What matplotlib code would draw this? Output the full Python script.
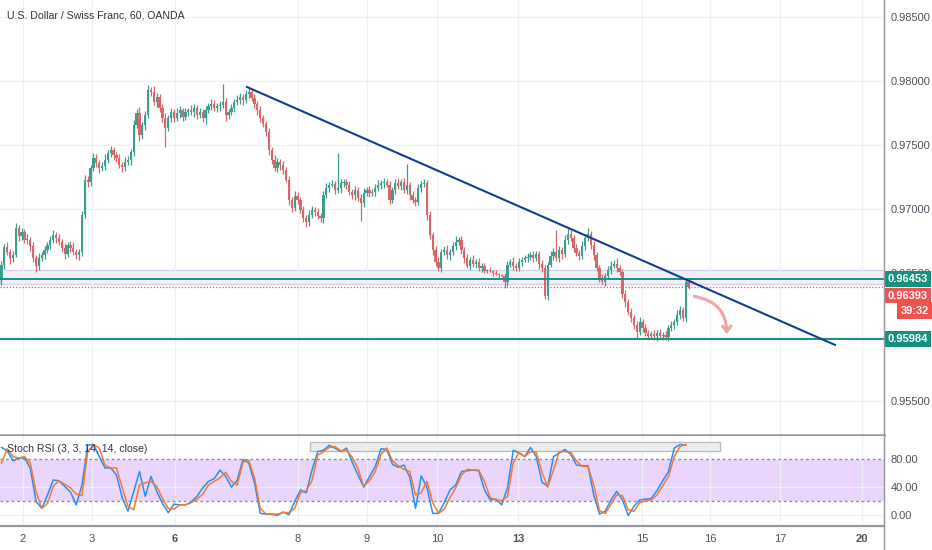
import numpy as np
import matplotlib.pyplot as plt
from matplotlib.patches import Rectangle, FancyArrowPatch
from matplotlib.transforms import offset_copy

plt.rcParams['font.family'] = ['Liberation Sans', 'DejaVu Sans']

# hourly USDCHF closes (open = previous close)
closes = [
    0.96563, 0.96703, 0.96664, 0.96617, 0.96641, 0.96852, 0.96789, 0.96820, 0.96758, 0.96758,
    0.96711, 0.96617, 0.96555, 0.96617, 0.96641, 0.96680, 0.96719, 0.96758, 0.96797, 0.96773,
    0.96742, 0.96695, 0.96648, 0.96719, 0.96695, 0.96664, 0.96641, 0.96664, 0.96953, 0.97227,
    0.97211, 0.97320, 0.97398, 0.97359, 0.97320, 0.97336, 0.97383, 0.97438, 0.97461, 0.97422,
    0.97398, 0.97344, 0.97328, 0.97367, 0.97383, 0.97445, 0.97656, 0.97750, 0.97578, 0.97656,
    0.97734, 0.97930, 0.97914, 0.97836, 0.97875, 0.97789, 0.97711, 0.97633, 0.97711, 0.97758,
    0.97711, 0.97750, 0.97773, 0.97719, 0.97758, 0.97773, 0.97758, 0.97789, 0.97734, 0.97758,
    0.97711, 0.97773, 0.97805, 0.97820, 0.97789, 0.97805, 0.97813, 0.97836, 0.97734, 0.97758,
    0.97789, 0.97836, 0.97852, 0.97875, 0.97852, 0.97898, 0.97914, 0.97867, 0.97820, 0.97773,
    0.97711, 0.97664, 0.97602, 0.97461, 0.97383, 0.97320, 0.97367, 0.97344, 0.97305, 0.97227,
    0.97070, 0.97008, 0.97102, 0.97070, 0.96992, 0.96930, 0.96898, 0.96953, 0.96992, 0.96977,
    0.96945, 0.96930, 0.97109, 0.97164, 0.97188, 0.97195, 0.97148, 0.97164, 0.97203, 0.97211,
    0.97188, 0.97133, 0.97109, 0.97148, 0.97086, 0.97047, 0.97125, 0.97148, 0.97125, 0.97133,
    0.97164, 0.97188, 0.97203, 0.97211, 0.97188, 0.97070, 0.97148, 0.97203, 0.97180, 0.97211,
    0.97148, 0.97188, 0.97109, 0.97070, 0.97055, 0.97164, 0.97195, 0.97203, 0.96953, 0.96797,
    0.96680, 0.96586, 0.96539, 0.96664, 0.96680, 0.96641, 0.96664, 0.96711, 0.96742, 0.96758,
    0.96680, 0.96617, 0.96555, 0.96602, 0.96570, 0.96586, 0.96539, 0.96555, 0.96516, 0.96523,
    0.96516, 0.96500, 0.96492, 0.96484, 0.96477, 0.96430, 0.96563, 0.96586, 0.96555, 0.96539,
    0.96586, 0.96602, 0.96617, 0.96625, 0.96641, 0.96617, 0.96648, 0.96570, 0.96539, 0.96320,
    0.96563, 0.96633, 0.96664, 0.96617, 0.96680, 0.96648, 0.96758, 0.96805, 0.96773, 0.96695,
    0.96656, 0.96633, 0.96711, 0.96773, 0.96805, 0.96719, 0.96641, 0.96539, 0.96461, 0.96430,
    0.96477, 0.96523, 0.96555, 0.96570, 0.96539, 0.96508, 0.96336, 0.96273, 0.96195, 0.96148,
    0.96094, 0.96039, 0.96117, 0.96070, 0.96031, 0.96008, 0.96023, 0.96008, 0.96031, 0.96008,
    0.96016, 0.96000, 0.96070, 0.96094, 0.96117, 0.96172, 0.96211, 0.96148, 0.96430, 0.96393,
]
first_open = 0.96445

# wick lengths in pips above / below the body
wick_up = [
    3, 2, 4, 2, 3, 4, 2, 3, 2, 5, 2, 3, 2, 4, 2, 3, 2, 3, 4, 2,
    3, 2, 4, 2, 3, 5, 2, 2, 3, 4, 3, 2, 4, 3, 2, 3, 5, 2, 3, 2,
    2, 3, 2, 4, 3, 2, 4, 3, 5, 2, 3, 4, 2, 5, 3, 2, 3, 4, 2, 3,
    2, 4, 3, 2, 3, 2, 4, 3, 2, 3, 2, 3, 2, 4, 3, 2, 3, 14, 3, 2,
    3, 2, 4, 3, 2, 3, 3, 2, 3, 2, 3, 2, 2, 3, 2, 4, 3, 2, 3, 2,
    3, 2, 4, 3, 2, 3, 2, 4, 3, 2, 3, 2, 3, 4, 2, 3, 2, 27, 3, 2,
    2, 3, 2, 3, 2, 3, 4, 2, 3, 2, 3, 4, 2, 3, 2, 3, 2, 3, 4, 2,
    3, 16, 2, 3, 2, 3, 2, 3, 2, 3, 2, 3, 4, 2, 3, 4, 2, 3, 5, 2,
    3, 2, 3, 2, 4, 2, 3, 2, 2, 1, 2, 1, 2, 1, 1, 2, 3, 2, 4, 2,
    3, 2, 2, 3, 2, 3, 2, 2, 3, 2, 2, 4, 3, 17, 3, 2, 4, 5, 3, 2,
    3, 2, 4, 3, 5, 2, 3, 2, 2, 3, 2, 3, 4, 3, 5, 2, 2, 3, 2, 3,
    2, 3, 4, 2, 3, 2, 2, 3, 2, 3, 2, 3, 2, 3, 2, 4, 3, 2, 2, 2,
]
wick_dn = [
    4, 3, 2, 5, 3, 2, 4, 3, 2, 3, 4, 3, 5, 3, 2, 3, 2, 3, 2, 4,
    2, 3, 4, 2, 3, 2, 3, 4, 3, 2, 4, 3, 2, 3, 4, 2, 3, 2, 3, 4,
    3, 2, 4, 3, 2, 4, 3, 2, 5, 3, 4, 2, 3, 2, 4, 3, 3, 15, 2, 3,
    3, 2, 4, 3, 2, 3, 2, 4, 3, 2, 3, 5, 2, 3, 2, 3, 4, 2, 5, 3,
    2, 3, 2, 3, 4, 2, 3, 2, 3, 4, 3, 2, 3, 4, 3, 2, 3, 4, 3, 2,
    4, 3, 2, 3, 2, 3, 4, 3, 2, 3, 2, 3, 4, 2, 3, 2, 3, 2, 4, 3,
    3, 2, 3, 4, 2, 14, 3, 2, 3, 2, 3, 2, 3, 4, 2, 3, 2, 3, 2, 3,
    2, 3, 4, 2, 3, 2, 3, 2, 4, 3, 4, 3, 2, 3, 2, 3, 4, 2, 3, 2,
    3, 4, 2, 3, 2, 3, 2, 3, 2, 2, 1, 2, 1, 2, 1, 5, 3, 2, 3, 2,
    2, 3, 2, 3, 2, 3, 2, 4, 3, 2, 3, 2, 3, 2, 3, 4, 2, 3, 2, 3,
    2, 3, 2, 3, 2, 3, 4, 2, 3, 2, 3, 2, 3, 2, 3, 2, 3, 4, 2, 3,
    3, 5, 2, 3, 2, 3, 2, 3, 4, 2, 3, 2, 3, 2, 3, 2, 3, 2, 3, 2,
]

# stoch rsi, sampled every second bar
stoch_k = [
    96, 91, 77, 81, 81, 67, 20, 10, 29, 50, 49, 41, 33, 15, 43, 99, 100, 83, 67, 67,
    57, 25, 6, 34, 62, 27, 55, 34, 17, 4, 16, 15, 15, 19, 27, 39, 48, 52, 64, 55,
    40, 50, 79, 74, 46, 3, 2, 2, 0, 5, 1, 20, 36, 32, 64, 90, 92, 99, 95, 90,
    95, 75, 57, 40, 55, 69, 94, 93, 72, 68, 71, 54, 10, 56, 39, 3, 3, 18, 36, 43,
    62, 63, 64, 63, 36, 22, 23, 15, 39, 92, 88, 83, 96, 83, 47, 41, 83, 88, 93, 86,
    71, 70, 70, 29, 2, 6, 22, 34, 22, 0, 13, 22, 23, 24, 35, 49, 62, 95, 100, 99,
]
stoch_d = [
    74, 94, 83, 81, 83, 74, 34, 10, 17, 41, 49, 44, 39, 30, 28, 90, 100, 95, 71, 67,
    67, 39, 13, 8, 43, 46, 48, 41, 24, 10, 9, 15, 15, 18, 23, 30, 43, 48, 53, 61,
    48, 43, 75, 78, 53, 10, 2, 2, 2, 4, 4, 10, 32, 35, 49, 85, 90, 96, 97, 91,
    92, 82, 66, 41, 49, 62, 86, 95, 77, 70, 65, 62, 29, 32, 48, 18, 3, 9, 25, 39,
    57, 65, 64, 64, 48, 25, 22, 21, 27, 74, 89, 83, 90, 89, 61, 40, 64, 90, 90, 89,
    77, 69, 69, 43, 7, 3, 16, 29, 28, 8, 6, 18, 21, 22, 29, 42, 55, 83, 97, 100,
]

day_labels = ['2', '3', '6', '8', '9', '10', '13', '15', '16', '17', '20']
day_bars = [7.5, 31.5, 60.4, 103.1, 127.1, 151.5, 179.7, 222.8, 246.4, 270.8, 299.3]
week_starts = ['6', '13', '20']

price_ticks = [0.985, 0.980, 0.975, 0.970, 0.965, 0.960, 0.955]
price_labels = ['0.98500', '0.98000', '0.97500', '0.97000', '0.96500', '', '0.95500']
stoch_ticks = [80, 40, 0]

resistance = 0.96453
support = 0.95984
last_price = 0.96393
countdown = '39:32'
zone = (0.96414, 0.96523)
trend_a = (85.4, 0.97953)
trend_b = (289.9, 0.95938)
arrow_a = (240.0, 0.96320)
arrow_b = (252.3, 0.96000)
range_box = (107.3, 249.9, 91, 103)

bull = '#3a9f8e'
bear = '#d6676a'
teal = '#17917f'
red = '#ef5350'
axis_gray = '#9598a1'
grid_c = '#eef0f5'
txt_c = '#4f525c'

fig = plt.figure(figsize=(9.32, 5.5), dpi=100)
W, H = 932, 550
ax = fig.add_axes([0, 115 / H, 884 / W, 435 / H])
ax2 = fig.add_axes([0, 24 / H, 884 / W, 90 / H], sharex=ax)

# candles
c = np.array(closes)
o = np.r_[first_open, c[:-1]]
hi = np.maximum(o, c) + np.array(wick_up) * 1e-4
lo = np.minimum(o, c) - np.array(wick_dn) * 1e-4
idx = np.arange(len(c))
cols = np.where(c >= o, bull, bear)
ax.vlines(idx, lo, hi, colors=cols, lw=0.9, zorder=3)
ax.bar(idx, np.maximum(np.abs(c - o), 0.00005), bottom=np.minimum(o, c),
       width=0.78, color=cols, linewidth=0, zorder=3)

ax.axhspan(zone[0], zone[1], facecolor='#f2eff9', edgecolor='#d9d0ec', lw=1, zorder=1)
ax.axhline(resistance, color=teal, lw=1.4, zorder=4)
ax.axhline(support, color=teal, lw=1.4, zorder=4)
ax.axhline(last_price, color=red, lw=0.9, ls=(0, (1, 1.5)), zorder=4)
ax.plot([trend_a[0], trend_b[0]], [trend_a[1], trend_b[1]], color='#123e92', lw=1.5, zorder=5)
ax.add_patch(FancyArrowPatch(arrow_a, arrow_b, connectionstyle='arc3,rad=-0.45',
                             arrowstyle='->,head_length=4,head_width=3',
                             color='#f4a3a3', lw=2.2, zorder=5))

ax.set_xlim(-0.52, 306.96)
ax.set_ylim(0.95234, 0.98633)
ax.yaxis.tick_right()
ax.set_yticks(price_ticks)
ax.set_yticklabels(price_labels)
ax.set_xticks(day_bars)
ax.tick_params(axis='x', length=0, labelbottom=False)
ax.tick_params(axis='y', length=0, pad=5, labelsize=8, labelcolor=txt_c)
ax.grid(True, color=grid_c, lw=0.9, zorder=0)
for s in ['left', 'top']:
    ax.spines[s].set_visible(False)
ax.spines['right'].set_color(axis_gray)
ax.spines['bottom'].set_color(axis_gray)
ax.spines['bottom'].set_linewidth(1.8)

ax.text(7 / 884, 1 - 15 / 435, 'U.S. Dollar / Swiss Franc, 60, OANDA', transform=ax.transAxes,
        fontsize=7.6, color='#33353c', va='center', ha='left')

# price tags on the right axis
ytr = ax.get_yaxis_transform()
tag = dict(fontsize=8, color='white', fontweight='bold', va='center', ha='left',
           clip_on=False, zorder=10)
ax.text(1.0045, resistance, '%.5f' % resistance, transform=ytr,
        bbox=dict(boxstyle='square,pad=0.25', fc=teal, ec='none'), **tag)
ax.text(1.0045, support, '%.5f' % support, transform=ytr,
        bbox=dict(boxstyle='square,pad=0.25', fc=teal, ec='none'), **tag)
ax.text(1.0045, last_price, '%.5f' % last_price,
        transform=offset_copy(ytr, fig=fig, y=-9, units='dots'),
        bbox=dict(boxstyle='square,pad=0.25', fc=red, ec='none'), **tag)
ax.text(1.0185, last_price, countdown,
        transform=offset_copy(ytr, fig=fig, y=-24, units='dots'),
        bbox=dict(boxstyle='square,pad=0.3', fc=red, ec='none'), **tag)

# stoch rsi panel
sx = np.arange(0, len(closes), 2)
ax2.axhspan(20, 80, facecolor='#ead6fc', edgecolor='none', zorder=1)
ax2.axhline(80, color='#8c8f99', lw=1, ls=(0, (2, 2)), zorder=2)
ax2.axhline(20, color='#8c8f99', lw=1, ls=(0, (2, 2)), zorder=2)
ax2.add_patch(Rectangle((range_box[0], range_box[2]), range_box[1] - range_box[0],
                        range_box[3] - range_box[2], fc='#ededee', ec='#b9bbc0', lw=1, zorder=2))
ax2.plot(sx, stoch_k, color='#2a8ef2', lw=1.1, zorder=4)
ax2.plot(sx, stoch_d, color='#f47a2e', lw=1.1, zorder=4)
ax2.set_ylim(-14.8, 112)
ax2.yaxis.tick_right()
ax2.set_yticks(stoch_ticks)
ax2.set_yticklabels(['%.2f' % v for v in stoch_ticks])
ax2.tick_params(axis='y', length=0, pad=5, labelsize=8, labelcolor=txt_c)
ax2.set_xticks(day_bars)
ax2.set_xticklabels(day_labels)
ax2.tick_params(axis='x', length=0, pad=6, labelsize=8, labelcolor=txt_c)
for lab in ax2.get_xticklabels():
    if lab.get_text() in week_starts:
        lab.set_fontweight('bold')
ax2.grid(True, color=grid_c, lw=0.9, zorder=0)
ax2.spines['left'].set_visible(False)
ax2.spines['top'].set_visible(False)
for s in ['bottom', 'right']:
    ax2.spines[s].set_color(axis_gray)
ax2.spines['bottom'].set_linewidth(1.6)
ax2.text(7 / 884, 0.85, 'Stoch RSI (3, 3, 14, 14, close)', transform=ax2.transAxes,
         fontsize=7.6, color='#33353c', va='center', ha='left', zorder=6)

fig.add_artist(plt.Line2D([884 / W, 884 / W], [0, 1], color=axis_gray, lw=1))

fig.savefig('out.png', dpi=100)
